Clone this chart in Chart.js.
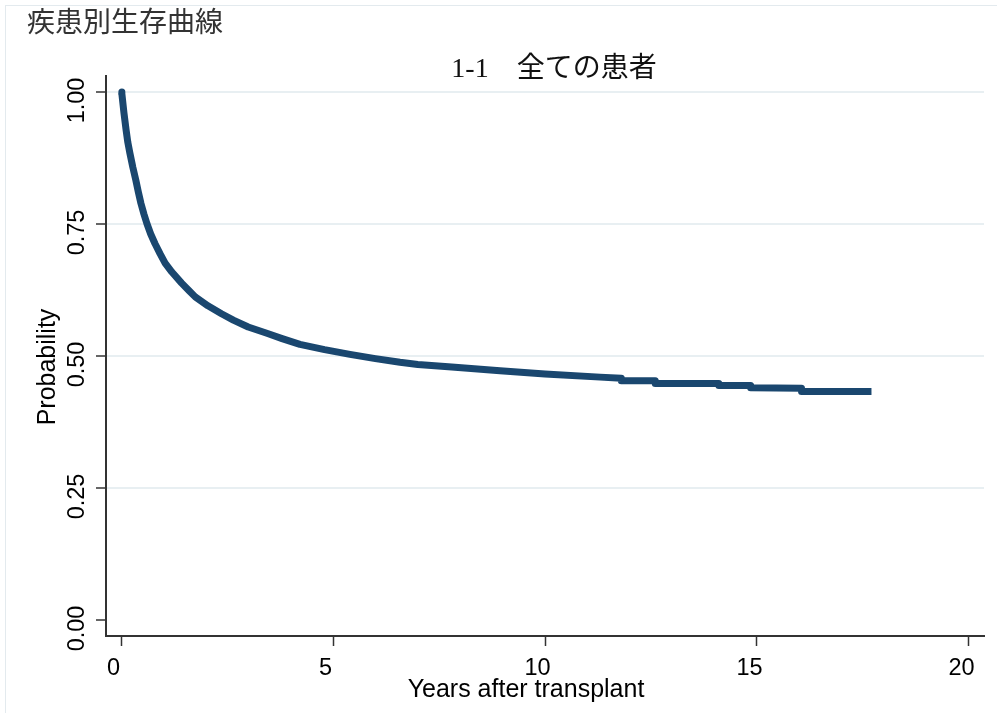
<!DOCTYPE html>
<html>
<head>
<meta charset="utf-8">
<script src="https://cdn.jsdelivr.net/npm/chart.js@4.4.0/dist/chart.umd.min.js"></script>
<style>
  html, body { margin: 0; padding: 0; background: #fff; }
  #wrap { width: 997px; height: 713px; }
</style>
</head>
<body>
<div id="wrap"><canvas id="chart" width="997" height="713"></canvas></div>
<script>
// 生存曲線データ（移植後年数と生存確率）
const years = [0, 0.02, 0.07, 0.12, 0.16, 0.21, 0.28, 0.35, 0.41, 0.47, 0.54, 0.61, 0.7, 0.8, 0.92, 1.04, 1.2, 1.43, 1.6, 1.75, 2.05, 2.37, 2.65, 3.0, 3.44, 3.8, 4.22, 4.8, 5.4, 6.0, 6.58, 7.0, 7.8, 8.94, 10.0, 11.3, 11.8, 11.8, 12.6, 12.6, 14.1, 14.1, 14.85, 14.85, 16.05, 16.05, 17.7];
const survival = [1.0, 0.997, 0.96, 0.928, 0.905, 0.884, 0.857, 0.833, 0.81, 0.789, 0.769, 0.751, 0.731, 0.713, 0.694, 0.676, 0.659, 0.638, 0.624, 0.612, 0.595, 0.580, 0.568, 0.555, 0.543, 0.533, 0.522, 0.512, 0.503, 0.495, 0.488, 0.484, 0.479, 0.472, 0.466, 0.460, 0.458, 0.453, 0.453, 0.448, 0.448, 0.444, 0.444, 0.440, 0.439, 0.433, 0.433];

// 目盛り
const xTicks = [0, 5, 10, 15, 20];
const yTicks = [0, 0.25, 0.5, 0.75, 1];

// テキスト
const chartTitle = '疾患別生存曲線';
const subTitle = '1-1　全ての患者';
const xLabel = 'Years after transplant';
const yLabel = 'Probability';

Chart.defaults.font.family = '"Liberation Sans", Arial, sans-serif';
Chart.defaults.color = '#000';

// タイトル・軸ラベルを描く
const textPlugin = {
    id: 'texts',
    beforeDraw(chart) {
        const c = chart.ctx;
        c.save();
        c.fillStyle = '#fff';
        c.fillRect(0, 0, chart.width, chart.height);
        c.strokeStyle = '#e3eaee';
        c.lineWidth = 1;
        c.strokeRect(5.5, 5.5, chart.width, chart.height);
        c.restore();
    },
    afterDraw(chart) {
        const c = chart.ctx;
        c.save();
        c.textBaseline = 'middle';
        c.fillStyle = '#333';
        c.font = '28px "Noto Sans CJK JP"';
        c.textAlign = 'left';
        c.fillText(chartTitle, 27, 21);

        c.fillStyle = '#111';
        c.font = '28px "Liberation Serif", "Noto Sans CJK JP"';
        c.textAlign = 'center';
        c.fillText(subTitle, 554, 70);

        c.fillStyle = '#000';
        c.font = '25px "Liberation Sans"';
        c.fillText(xLabel, 526, 690);
        c.translate(48, 367);
        c.rotate(-Math.PI / 2);
        c.fillText(yLabel, 0, 0);
        c.restore();
    }
};

new Chart(document.getElementById('chart'), {
    type: 'line',
    data: {
        datasets: [{
            data: years.map((t, i) => ({ x: t, y: survival[i] })),
            borderColor: '#1a476f',
            borderWidth: 7,
            borderJoinStyle: 'round',
            pointRadius: 0,
            tension: 0,
            fill: false
        }]
    },
    options: {
        responsive: false,
        animation: false,
        layout: { padding: { left: 0, top: 76, right: 13, bottom: 0 } },
        plugins: {
            legend: { display: false },
            tooltip: { enabled: false }
        },
        scales: {
            x: {
                type: 'linear',
                min: -0.354,
                max: 20.354,
                afterBuildTicks: s => { s.ticks = xTicks.map(v => ({ value: v })); },
                afterFit: s => { s.height = 77; },
                border: { color: '#333', width: 2 },
                grid: { drawOnChartArea: false, tickLength: 10, tickColor: '#333', tickWidth: 1.5 },
                ticks: {
                    font: { size: 23.5 },
                    padding: 8,
                    labelOffset: -7.5,
                    maxRotation: 0,
                    callback: v => String(v)
                }
            },
            y: {
                min: -0.0303,
                max: 1.0303,
                afterBuildTicks: s => { s.ticks = yTicks.map(v => ({ value: v })); },
                afterFit: s => { s.width = 106; },
                border: { color: '#333', width: 2 },
                grid: {
                    color: ctx => (ctx.tick && ctx.tick.value === 0) ? 'rgba(0,0,0,0)' : '#e8eff2',
                    lineWidth: 2,
                    tickLength: 10,
                    tickColor: '#333',
                    tickWidth: 1.5
                },
                ticks: {
                    font: { size: 23.5 },
                    minRotation: 90,
                    maxRotation: 90,
                    crossAlign: 'center',
                    padding: -4,
                    labelOffset: 8.5,
                    callback: v => v.toFixed(2)
                }
            }
        }
    },
    plugins: [textPlugin]
});
</script>
</body>
</html>
